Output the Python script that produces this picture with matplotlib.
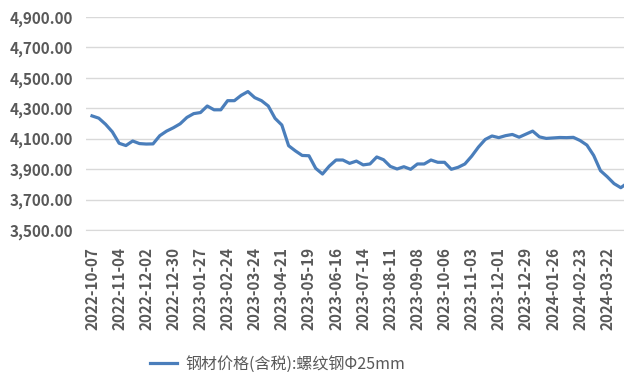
import pandas as pd
import matplotlib

matplotlib.use("Agg")
import matplotlib.pyplot as plt
import matplotlib.dates as mdates
from matplotlib.ticker import FuncFormatter

plt.rcParams["font.family"] = ["Noto Sans CJK SC", "DejaVu Sans"]

# weekly rebar price, 2022-10-07 onwards
start = "2022-10-07"
prices = [
    4250, 4235, 4195, 4145, 4070, 4055, 4085, 4068, 4065, 4066,
    4120, 4150, 4172, 4198, 4240, 4265, 4272, 4315, 4290, 4290,
    4350, 4350, 4385, 4410, 4370, 4350, 4315, 4234, 4190, 4054,
    4020, 3990, 3988, 3905, 3868, 3920, 3960, 3960, 3938, 3953,
    3928, 3934, 3980, 3962, 3918, 3901, 3916, 3899, 3934, 3934,
    3960, 3945, 3945, 3899, 3912, 3934, 3985, 4045, 4095, 4118,
    4107, 4120, 4128, 4110, 4130, 4150, 4112, 4102, 4105, 4108,
    4107, 4109, 4088, 4058, 3990, 3890, 3850, 3805, 3778, 3810,
]
dates = pd.date_range(start, periods=len(prices), freq="7D")
tick_dates = dates[::4][:20]
yticks = [3500, 3700, 3900, 4100, 4300, 4500, 4700, 4900]
series_name = "钢材价格(含税):螺纹钢Φ25mm"

grey = "#595959"

fig = plt.figure(figsize=(6.24, 3.72), dpi=100)
ax = fig.add_axes([86 / 624, 1 - 230 / 372, 1 - 86 / 624, 213 / 372])

ax.plot(dates, prices, color="#4a7ebb", lw=2.3, label=series_name,
        solid_joinstyle="round")

ax.set_ylim(3500, 4900)
ax.set_yticks(yticks)
ax.yaxis.set_major_formatter(FuncFormatter(lambda v, p: f"{v:,.2f}"))
ax.set_xlim(dates[0] - pd.Timedelta(days=6.2), dates[0] + pd.Timedelta(days=549.3))
ax.set_xticks(tick_dates)
ax.xaxis.set_major_formatter(mdates.DateFormatter("%Y-%m-%d"))

ax.grid(axis="y", color="#d9d9d9", lw=1)
ax.set_axisbelow(True)
for s in ax.spines.values():
    s.set_visible(False)
ax.spines["bottom"].set_visible(True)
ax.spines["bottom"].set_color("#d9d9d9")
ax.tick_params(length=0, colors=grey)
ax.tick_params(axis="y", pad=9, labelsize=11)
ax.tick_params(axis="x", pad=12, labelsize=11, rotation=90)
for lab in ax.get_xticklabels() + ax.get_yticklabels():
    lab.set_fontweight("bold")

leg = fig.legend(loc="lower center", bbox_to_anchor=(0.445, -0.04), frameon=False,
                 fontsize=11.5, handlelength=1.7, handletextpad=0.5)
for t in leg.get_texts():
    t.set_color(grey)

fig.savefig("out.png", dpi=100)
